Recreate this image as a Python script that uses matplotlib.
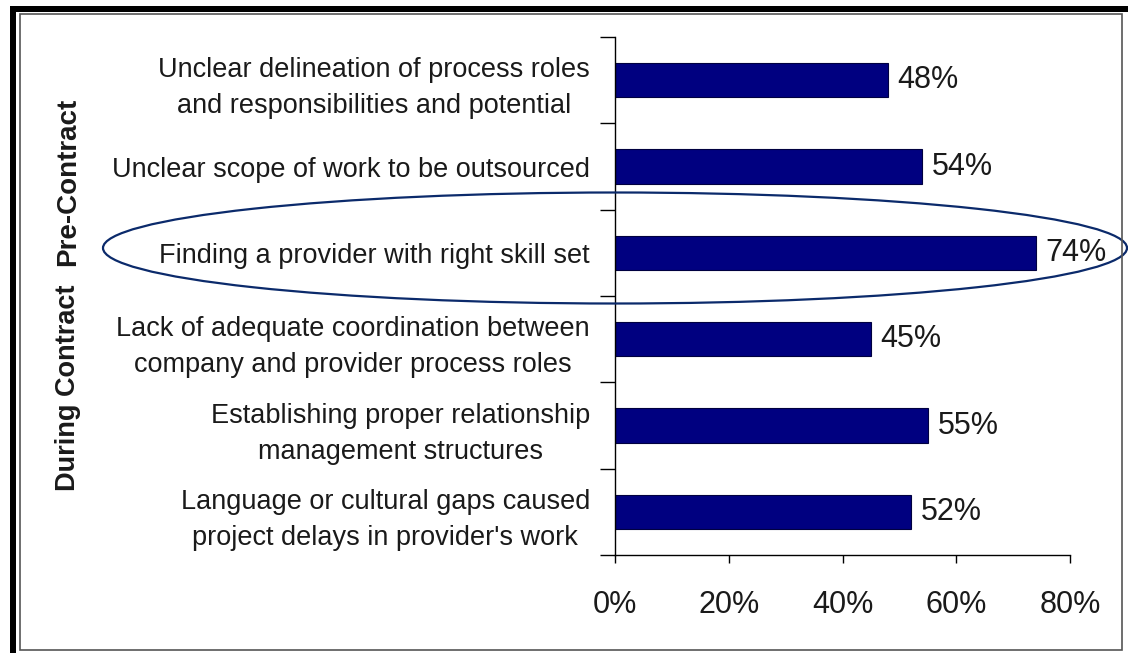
"""
outsourcing challenges - horizontal bar chart
"""
import matplotlib.pyplot as plt
from matplotlib.patches import Ellipse, Rectangle

plt.rcParams['font.family'] = ['Liberation Sans', 'DejaVu Sans']

categories = [
    "Unclear delineation of process roles\nand responsibilities and potential",
    "Unclear scope of work to be outsourced",
    "Finding a provider with right skill set",
    "Lack of adequate coordination between\ncompany and provider process roles",
    "Establishing proper relationship\nmanagement structures",
    "Language or cultural gaps caused\nproject delays in provider's work",
]
values = [0.48, 0.54, 0.74, 0.45, 0.55, 0.52]
value_labels = ["48%", "54%", "74%", "45%", "55%", "52%"]
xticks = [0, 0.2, 0.4, 0.6, 0.8]
xtick_labels = ["0%", "20%", "40%", "60%", "80%"]
groups = ["Pre-Contract", "During Contract"]

W, H = 1128, 653
fig = plt.figure(figsize=(W / 100, H / 100), dpi=100)
fig.patch.set_facecolor('white')

# main axes, placed in pixel coords
x0, x1, y0, y1 = 615, 1070, 37, 555
ax = fig.add_axes([x0 / W, 1 - y1 / H, (x1 - x0) / W, (y1 - y0) / H])
ypos = list(range(len(categories)))
ax.barh(ypos, values, height=0.4, color='#000080', edgecolor='#000040', linewidth=0.8)
for y, v, lab in zip(ypos, values, value_labels):
    ax.text(v + 0.017, y, lab, va='center', ha='left', fontsize=22, color='#1a1a1a')

ax.set_xlim(0, 0.8)
ax.set_ylim(5.5, -0.5)
ax.set_xticks(xticks)
ax.set_xticklabels(xtick_labels, fontsize=22, color='#1a1a1a')
ax.tick_params(axis='x', direction='out', length=6, width=1, pad=19)

ax.set_yticks(ypos)
ax.set_yticklabels(categories, fontsize=19.5, color='#1a1a1a',
                   multialignment='center', linespacing=1.5)
ax.set_yticks([i - 0.5 for i in range(len(categories) + 1)], minor=True)
ax.tick_params(axis='y', which='major', length=0, pad=18)
ax.tick_params(axis='y', which='minor', direction='out', length=11, width=1)

for s in ['top', 'right']:
    ax.spines[s].set_visible(False)
for s in ['left', 'bottom']:
    ax.spines[s].set_linewidth(1)
    ax.spines[s].set_color('black')

# group labels on the far left
fig.text(68 / W, 1 - 182 / H, groups[0], rotation=90, ha='center', va='center',
         fontsize=20, fontweight='bold', color='#1a1a1a')
fig.text(68 / W, 1 - 388 / H, groups[1], rotation=90, ha='center', va='center',
         fontsize=19.5, fontweight='bold', color='#1a1a1a')

# overlay for frame and highlight ellipse
ov = fig.add_axes([0, 0, 1, 1], zorder=5)
ov.set_xlim(0, W)
ov.set_ylim(H, 0)
ov.axis('off')
ov.patch.set_alpha(0)

ov.add_patch(Ellipse((615, 248), 1024, 111, fill=False, edgecolor='#0b2a6b', linewidth=1.6))

# frame
ov.add_patch(Rectangle((10, 6), 6, H - 6, color='black', lw=0))
ov.add_patch(Rectangle((10, 6), W - 10, 6, color='black', lw=0))
ov.add_patch(Rectangle((20, 14), 1102, 636, fill=False, edgecolor='#555555', linewidth=1.2))

plt.savefig("out.png", dpi=100)
